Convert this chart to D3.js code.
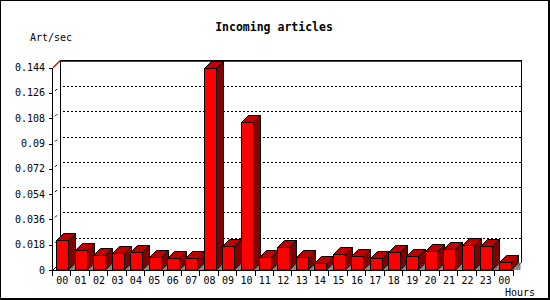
<!DOCTYPE html>
<html><head><meta charset="utf-8">
<script src="https://cdn.jsdelivr.net/npm/d3@7"></script>
<style>
html,body{margin:0;padding:0;background:#fff;}
svg{display:block;}
text{font-family:"DejaVu Sans Mono","Liberation Mono",monospace;}
</style></head>
<body><svg id="c" width="550" height="300"></svg>
<script>
const categories = ["00","01","02","03","04","05","06","07","08","09","10","11","12","13","14","15","16","17","18","19","20","21","22","23","00"];
const values = [0.0214,0.0143,0.0105,0.0119,0.0126,0.0090,0.0083,0.0083,0.1436,0.0173,0.1053,0.0090,0.0162,0.0090,0.0048,0.0112,0.0097,0.0083,0.0126,0.0097,0.0133,0.0147,0.0176,0.0169,0.0055];
const yTicks = [0,0.018,0.036,0.054,0.072,0.09,0.108,0.126,0.144];
const yTickLabels = ["0","0.018","0.036","0.054","0.072","0.09","0.108","0.126","0.144"];
const title = "Incoming articles";
const yTitle = "Art/sec";
const xTitle = "Hours";

const svg = d3.select("#c");
const W = 550, H = 300;
const DX = 7, DY = -7;
const x = d3.scaleBand().domain(d3.range(categories.length)).range([53, 513.5]).padding(0);
const y = d3.scaleLinear().domain([0, 0.144]).range([270, 67.7]);
const barW = 11.5;

// outer frame
svg.append("rect").attr("x",0.5).attr("y",0.5).attr("width",548).attr("height",298)
  .attr("fill","none").attr("stroke","#000");
svg.append("line").attr("x1",549.5).attr("x2",549.5).attr("y1",0).attr("y2",300).attr("stroke","#000");
svg.append("line").attr("x1",0).attr("x2",550).attr("y1",299.5).attr("y2",299.5).attr("stroke","#000");

// title
svg.append("text").attr("x",274).attr("y",31).attr("text-anchor","middle")
  .attr("font-size","11.5px").attr("font-weight","bold").text(title);
svg.append("text").attr("x",30).attr("y",40.5).attr("font-size","10px").text(yTitle);
svg.append("text").attr("x",505).attr("y",295.5).attr("font-size","10px").text(xTitle);

const x0 = x.range()[0], x1 = x.range()[1];
const yTop = y(0.144), yBot = y(0);

// back wall lines
const g = svg.append("g").attr("shape-rendering","crispEdges");
// gridlines (dotted) on back wall
yTicks.filter(t => t > 0 && t < 0.144).forEach(t => {
  g.append("line").attr("x1",x0+DX+3).attr("x2",x1+DX).attr("y1",Math.round(y(t)+DY)+0.5).attr("y2",Math.round(y(t)+DY)+0.5)
    .attr("stroke","#000").attr("stroke-dasharray","2,2");
});
// back-left and back-right verticals
g.append("line").attr("x1",x0+DX+0.5).attr("x2",x0+DX+0.5).attr("y1",yTop+DY).attr("y2",yBot+DY).attr("stroke","#000");
g.append("line").attr("x1",x1+DX+0.5).attr("x2",x1+DX+0.5).attr("y1",yTop+DY-1).attr("y2",yBot+DY).attr("stroke","#000");
// top line black + red
g.append("line").attr("x1",x0+DX).attr("x2",x1+DX+1).attr("y1",Math.round(yTop+DY)-0.5).attr("y2",Math.round(yTop+DY)-0.5).attr("stroke","#000");
g.append("line").attr("x1",x0+DX).attr("x2",x1+DX).attr("y1",Math.round(yTop+DY)+0.5).attr("y2",Math.round(yTop+DY)+0.5).attr("stroke","#e00000");

// diagonal connectors
svg.append("line").attr("x1",x0).attr("y1",yTop).attr("x2",x0+DX).attr("y2",yTop+DY).attr("stroke","#d00000").attr("stroke-width",1.3);
svg.append("line").attr("x1",x0).attr("y1",yBot).attr("x2",x0+DX).attr("y2",yBot+DY).attr("stroke","#000");
// right floor corner shade
svg.append("path").attr("d",`M${x1},${yBot}L${x1+DX},${yBot+DY}L${x1+DX},${yBot}Z`).attr("fill","#888");
svg.append("line").attr("x1",x1).attr("y1",yBot).attr("x2",x1+DX).attr("y2",yBot+DY).attr("stroke","#000");
// small tick diagonals
yTicks.filter(t => t > 0 && t < 0.144).forEach(t => {
  svg.append("line").attr("x1",x0+2).attr("y1",y(t)-2).attr("x2",x0+4).attr("y2",y(t)-4).attr("stroke","#000");
});

// bars
const bars = svg.append("g");
values.forEach((v, i) => {
  const cx = x(i) + x.bandwidth()/2;
  const L = Math.round(cx - barW/2) + 0.5, R = L + Math.round(barW);
  const T = Math.round(y(v)) + 0.5, B = yBot;
  // shadow on floor
  bars.append("path").attr("d",`M${R},${B}L${R+DX},${B+DY}L${R+DX},${B}Z`).attr("fill","#888");
  // side
  bars.append("path").attr("d",`M${R},${B}L${R},${T}L${R+DX},${T+DY}L${R+DX},${B+DY}Z`)
    .attr("fill","#800000").attr("stroke","#000").attr("stroke-linejoin","miter");
  // top
  bars.append("path").attr("d",`M${L},${T}L${L+DX},${T+DY}L${R+DX},${T+DY}L${R},${T}Z`)
    .attr("fill","#c00000").attr("stroke","#000");
  // front
  bars.append("rect").attr("x",L).attr("y",T).attr("width",R-L).attr("height",B-T)
    .attr("fill","#ff0000").attr("stroke","#000");
});

// axes
const ax = svg.append("g").attr("shape-rendering","crispEdges");
ax.append("line").attr("x1",x0-0.5).attr("x2",x0-0.5).attr("y1",yTop).attr("y2",yBot+1).attr("stroke","#000");
ax.append("line").attr("x1",x0-0.5).attr("x2",x1).attr("y1",yBot+0.5).attr("y2",yBot+0.5).attr("stroke","#000");
yTicks.forEach((t, i) => {
  ax.append("line").attr("x1",x0-4).attr("x2",x0).attr("y1",Math.round(y(t))+0.5).attr("y2",Math.round(y(t))+0.5).attr("stroke","#000");
  svg.append("text").attr("x",45).attr("y",y(t)+3.5).attr("text-anchor","end").attr("font-size","10px").text(yTickLabels[i]);
});
d3.range(categories.length + 1).forEach(i => {
  const xx = Math.round(x0 + i * x.bandwidth()) - 0.5;
  ax.append("line").attr("x1",xx).attr("x2",xx).attr("y1",yBot).attr("y2",yBot+6).attr("stroke","#000");
});
categories.forEach((c, i) => {
  svg.append("text").attr("x",x(i)+x.bandwidth()/2).attr("y",283.5).attr("text-anchor","middle").attr("font-size","10px").text(c);
});
</script></body></html>
